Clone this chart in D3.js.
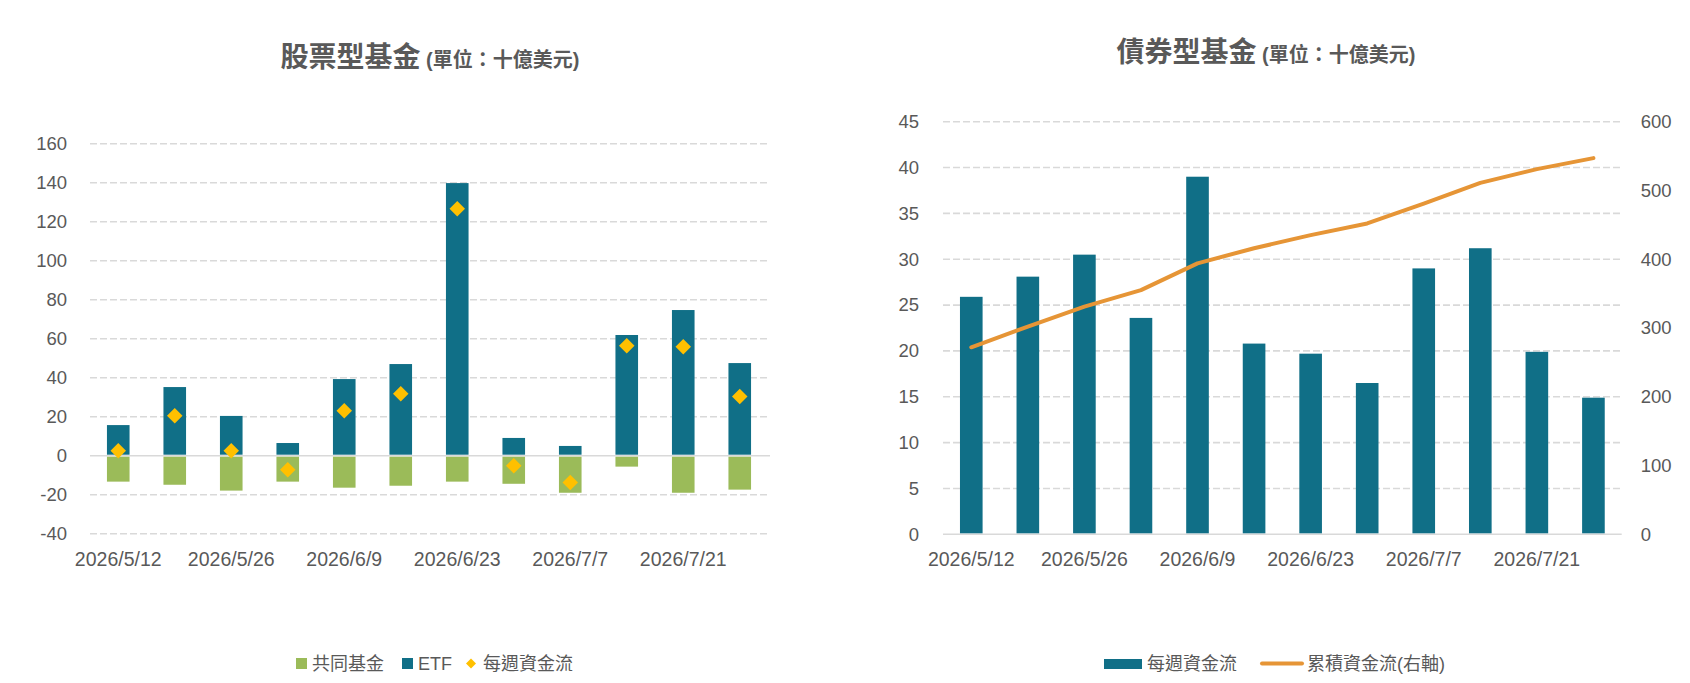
<!DOCTYPE html>
<html>
<head>
<meta charset="utf-8">
<script src="https://cdn.jsdelivr.net/npm/d3@7"></script>
<style>
  body { margin: 0; background: #fff; }
  text { font-family: "Liberation Sans", "Noto Sans CJK TC", sans-serif; fill: #595959; }
</style>
</head>
<body>
<svg id="chart" width="1690" height="683"></svg>
<script>
// weekly dates and the labels excel actually shows
var categories = ["2026/5/12","2026/5/19","2026/5/26","2026/6/2","2026/6/9","2026/6/16",
                  "2026/6/23","2026/6/30","2026/7/7","2026/7/14","2026/7/21","2026/7/28"]
var tickLabels = ["2026/5/12","2026/5/26","2026/6/9","2026/6/23","2026/7/7","2026/7/21"]

// 股票型基金
var equityMutual = [-13.3,-14.9,-17.9,-13.3,-16.4,-15.4,-13.3,-14.4,-19.0,-5.6,-19.0,-17.4]
var equityETF    = [15.7,35.2,20.4,6.5,39.3,47.0,139.8,9.1,5.0,61.9,74.7,47.5]
var equityWeekly = [2.6,20.5,2.6,-7.2,23.1,31.8,126.7,-5.1,-13.8,56.4,55.9,30.3]
var equityTicks  = [-40,-20,0,20,40,60,80,100,120,140,160]

// 債券型基金
var bondWeekly     = [25.9,28.1,30.5,23.6,39.0,20.8,19.7,16.5,29.0,31.2,19.9,14.9]
var bondCumulative = [272,302,331,355,394,416,435,452,481,511,531,547]
var bondTicks      = [0,5,10,15,20,25,30,35,40,45]
var bondTicksRight = [0,100,200,300,400,500,600]

var teal = "#106f87", green = "#9bbb59", gold = "#ffc000", orange = "#e69536", grid = "#d9d9d9"

var svg = d3.select("#chart")

function gridLines(g, y, ticks, x0, x1) {
    g.selectAll("line").data(ticks).enter().append("line")
        .attr("x1", x0).attr("x2", x1)
        .attr("y1", d => y(d)).attr("y2", d => y(d))
        .attr("stroke", grid).attr("stroke-width", 1.6)
        .attr("stroke-dasharray", d => d === 0 ? null : "7,3")
}

// date labels sit under every second bar
function dateLabels(g, x, yPos) {
    g.selectAll("text").data(tickLabels).enter().append("text")
        .attr("x", d => x(d) + x.bandwidth() / 2)
        .attr("y", yPos)
        .attr("text-anchor", "middle")
        .attr("dominant-baseline", "central")
        .attr("font-size", "19.5px")
        .text(d => d)
}

function yTicks(g) {
    g.call(g => g.select(".domain").remove())
     .selectAll("text")
        .attr("font-size", "18.5px")
        .style("font-family", null)
        .attr("fill", "#595959")
}

function title(x, y, main) {
    var t = svg.append("text")
        .attr("x", x).attr("y", y)
        .attr("text-anchor", "middle")
        .attr("font-weight", "bold")
    t.append("tspan").attr("font-size", "28px").text(main)
    t.append("tspan").attr("font-size", "20px").text(" (單位：十億美元)")
}

// ---------- left chart ----------
var L = {left: 90, right: 768, top: 143.7, bottom: 533.7}

var xL = d3.scaleBand()
    .domain(categories)
    .range([L.left, L.right])
    .paddingInner(0.6).paddingOuter(0.3)

var yL = d3.scaleLinear()
    .domain([-40, 160])
    .range([L.bottom, L.top])

svg.append("g").call(gridLines, yL, equityTicks, L.left, L.right + 2)

svg.append("g")
    .attr("transform", `translate(${L.left},0)`)
    .call(d3.axisLeft(yL).tickValues(equityTicks).tickFormat(d => d).tickSize(0).tickPadding(23))
    .call(yTicks)

var barsL = svg.append("g")
barsL.selectAll(".mutual").data(equityMutual).enter().append("rect")
    .attr("x", (d, i) => xL(categories[i]))
    .attr("width", xL.bandwidth())
    .attr("y", yL(0) + 1)
    .attr("height", d => yL(d) - yL(0) - 1)
    .attr("fill", green)
barsL.selectAll(".etf").data(equityETF).enter().append("rect")
    .attr("x", (d, i) => xL(categories[i]))
    .attr("width", xL.bandwidth())
    .attr("y", d => yL(d))
    .attr("height", d => yL(0) - yL(d) - 1)
    .attr("fill", teal)

var diamond = d3.symbol(d3.symbolSquare).size(120)
svg.append("g").selectAll("path").data(equityWeekly).enter().append("path")
    .attr("d", diamond)
    .attr("transform", (d, i) => `translate(${xL(categories[i]) + xL.bandwidth() / 2},${yL(d)}) rotate(45)`)
    .attr("fill", gold)

svg.append("g").call(dateLabels, xL, 559)

title(430, 67, "股票型基金")

// legend left
var legL = svg.append("g")
legL.append("rect").attr("x", 296).attr("y", 658).attr("width", 11).attr("height", 11).attr("fill", green)
legL.append("text").attr("x", 312).attr("y", 664).attr("dominant-baseline", "central").attr("font-size", "18px").text("共同基金")
legL.append("rect").attr("x", 402).attr("y", 658).attr("width", 11).attr("height", 11).attr("fill", teal)
legL.append("text").attr("x", 418).attr("y", 664).attr("dominant-baseline", "central").attr("font-size", "18px").text("ETF")
legL.append("path").attr("d", d3.symbol(d3.symbolSquare).size(50))
    .attr("transform", "translate(471,663.5) rotate(45)").attr("fill", gold)
legL.append("text").attr("x", 483).attr("y", 664).attr("dominant-baseline", "central").attr("font-size", "18px").text("每週資金流")

// ---------- right chart ----------
var R = {left: 943, right: 1621.7, top: 121.7, bottom: 534.3}

var xR = d3.scaleBand()
    .domain(categories)
    .range([R.left, R.right])
    .paddingInner(0.6).paddingOuter(0.3)

var yR = d3.scaleLinear().domain([0, 45]).range([R.bottom, R.top])
var yR2 = d3.scaleLinear().domain([0, 600]).range([R.bottom, R.top])

svg.append("g").call(gridLines, yR, bondTicks, R.left, R.right)

svg.append("g")
    .attr("transform", `translate(${R.left},0)`)
    .call(d3.axisLeft(yR).tickValues(bondTicks).tickSize(0).tickPadding(24))
    .call(yTicks)

svg.append("g")
    .attr("transform", `translate(${R.right},0)`)
    .call(d3.axisRight(yR2).tickValues(bondTicksRight).tickSize(0).tickPadding(19))
    .call(yTicks)

svg.append("g").selectAll("rect").data(bondWeekly).enter().append("rect")
    .attr("x", (d, i) => xR(categories[i]))
    .attr("width", xR.bandwidth())
    .attr("y", d => yR(d))
    .attr("height", d => yR(0) - yR(d) - 1)
    .attr("fill", teal)

var line = d3.line()
    .x((d, i) => xR(categories[i]) + xR.bandwidth() / 2)
    .y(d => yR2(d))

svg.append("path")
    .datum(bondCumulative)
    .attr("d", line)
    .attr("fill", "none")
    .attr("stroke", orange)
    .attr("stroke-width", 4)
    .attr("stroke-linecap", "round")
    .attr("stroke-linejoin", "round")

svg.append("g").call(dateLabels, xR, 559)

title(1266, 62, "債券型基金")

// legend right
var legR = svg.append("g")
legR.append("rect").attr("x", 1104).attr("y", 659).attr("width", 38).attr("height", 10).attr("fill", teal)
legR.append("text").attr("x", 1147).attr("y", 664).attr("dominant-baseline", "central").attr("font-size", "18px").text("每週資金流")
legR.append("line").attr("x1", 1262).attr("x2", 1302).attr("y1", 663.5).attr("y2", 663.5)
    .attr("stroke", orange).attr("stroke-width", 4).attr("stroke-linecap", "round")
legR.append("text").attr("x", 1307).attr("y", 664).attr("dominant-baseline", "central").attr("font-size", "18px").text("累積資金流(右軸)")
</script>
</body>
</html>
